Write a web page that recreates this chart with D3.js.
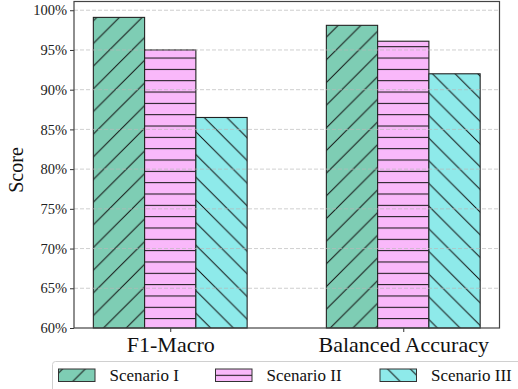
<!DOCTYPE html>
<html>
<head>
<meta charset="utf-8">
<script src="https://cdn.jsdelivr.net/npm/d3@7"></script>
<style>
  html, body { margin: 0; padding: 0; background: #fff; }
  svg { display: block; font-family: "Liberation Serif", "Times New Roman", serif; }
</style>
</head>
<body>
<svg id="chart" width="518" height="389"></svg>
<script>
// Metrics on the x axis
const categories = ["F1-Macro", "Balanced Accuracy"];
// Scenarios drawn as grouped bars
const seriesNames = ["Scenario I", "Scenario II", "Scenario III"];
// Scores (%) per scenario, in category order
const scenario1 = [99.1, 98.1];
const scenario2 = [95.0, 96.1];
const scenario3 = [86.5, 92.0];
const seriesValues = [scenario1, scenario2, scenario3];
// Y axis ticks (%)
const yTicks = [60, 65, 70, 75, 80, 85, 90, 95, 100];

const fills = ["#7ecdb4", "#f9b8fa", "#8eeaea"];
const hatchIds = ["hatch-ne", "hatch-h", "hatch-nw"];

const svg = d3.select("#chart");
const margin = { left: 74, right: 499.5, top: 1.5, bottom: 328 };

const barWidth = 0.22;
const x = d3.scaleLinear().domain([-0.413, 1.413]).range([margin.left, margin.right]);
const y = d3.scaleLinear().domain([60, 101.1]).range([margin.bottom, margin.top]);

// Hatch patterns, anchored to the page origin
const defs = svg.append("defs");
const s = 22.67;  // diagonal hatch spacing
const h = 11.33;  // horizontal hatch spacing

const ne = defs.append("pattern").attr("id", "hatch-ne")
  .attr("patternUnits", "userSpaceOnUse")
  .attr("width", s).attr("height", s).attr("x", 0.8).attr("y", 0);
ne.append("path")
  .attr("d", `M0,${s} L${s},0 M-2,2 L2,-2 M${s - 2},${s + 2} L${s + 2},${s - 2}`)
  .attr("stroke", "#111").attr("stroke-width", 1).attr("fill", "none");

const hz = defs.append("pattern").attr("id", "hatch-h")
  .attr("patternUnits", "userSpaceOnUse")
  .attr("width", 10).attr("height", h).attr("x", 0).attr("y", 0.9);
hz.append("path")
  .attr("d", `M-1,0.5 L11,0.5`)
  .attr("stroke", "#111").attr("stroke-width", 1).attr("fill", "none");

const nw = defs.append("pattern").attr("id", "hatch-nw")
  .attr("patternUnits", "userSpaceOnUse")
  .attr("width", s).attr("height", s).attr("x", -4).attr("y", 0);
nw.append("path")
  .attr("d", `M0,0 L${s},${s} M-2,${s - 2} L2,${s + 2} M${s - 2},-2 L${s + 2},2`)
  .attr("stroke", "#111").attr("stroke-width", 1).attr("fill", "none");

// Bars: solid fill, hatch overlay, dark edge
const groups = svg.append("g").attr("class", "bars");
seriesValues.forEach((vals, j) => {
  const data = vals.map((v, i) => ({ i, v }));
  const g = groups.append("g");
  const bx = d => x(d.i + (j - 1) * barWidth - barWidth / 2);
  const bw = x(barWidth) - x(0);
  g.selectAll("rect.fill").data(data).join("rect").attr("class", "fill")
    .attr("x", bx).attr("width", bw)
    .attr("y", d => y(d.v)).attr("height", d => y(60) - y(d.v))
    .attr("fill", fills[j]);
  g.selectAll("rect.hatch").data(data).join("rect").attr("class", "hatch")
    .attr("x", bx).attr("width", bw)
    .attr("y", d => y(d.v)).attr("height", d => y(60) - y(d.v))
    .attr("fill", `url(#${hatchIds[j]})`)
    .attr("stroke", "#222").attr("stroke-width", 1.1);
});

// Grid lines over the bars
svg.append("g").attr("class", "grid")
  .selectAll("line").data(yTicks.filter(t => t > 60)).join("line")
  .attr("x1", margin.left).attr("x2", margin.right)
  .attr("y1", d => y(d)).attr("y2", d => y(d))
  .attr("stroke", "#b8b8b8").attr("stroke-opacity", 0.75)
  .attr("stroke-width", 0.9).attr("stroke-dasharray", "4,2");

// Y axis
const yAxis = d3.axisLeft(y).tickValues(yTicks).tickSize(4).tickPadding(3)
  .tickFormat(d => d + "%");
const yg = svg.append("g").attr("transform", `translate(${margin.left},0)`).call(yAxis);
yg.select(".domain").remove();
yg.selectAll(".tick line").attr("stroke", "#333");
yg.selectAll(".tick text").attr("font-size", 14.5).attr("fill", "#222")
  .attr("font-family", "Liberation Serif");

// X axis
const xAxis = d3.axisBottom(x).tickValues(categories.map((c, i) => i))
  .tickSize(4).tickPadding(3).tickFormat(i => categories[i]);
const xg = svg.append("g").attr("transform", `translate(0,${margin.bottom})`).call(xAxis);
xg.select(".domain").remove();
xg.selectAll(".tick line").attr("stroke", "#333");
xg.selectAll(".tick text").attr("font-size", 22).attr("fill", "#111")
  .attr("font-family", "Liberation Serif").attr("dy", "0.78em");

// Axes frame
svg.append("rect")
  .attr("x", margin.left).attr("y", margin.top)
  .attr("width", margin.right - margin.left).attr("height", margin.bottom - margin.top)
  .attr("fill", "none").attr("stroke", "#444").attr("stroke-width", 1.2);

// Y axis title
svg.append("text")
  .attr("transform", "translate(23,170) rotate(-90)")
  .attr("text-anchor", "middle")
  .attr("font-size", 20).attr("fill", "#111")
  .text("Score");

// Legend
const legend = svg.append("g").attr("class", "legend");
legend.append("rect")
  .attr("x", 52.5).attr("y", 361.5).attr("width", 500).attr("height", 50)
  .attr("rx", 3).attr("fill", "#fff").attr("stroke", "#d0d0d0").attr("stroke-width", 1);
const legendX = [58.5, 215.5, 380];
seriesNames.forEach((name, j) => {
  legend.append("rect")
    .attr("x", legendX[j]).attr("y", 369).attr("width", 36.5).attr("height", 12.5)
    .attr("fill", fills[j]);
  legend.append("rect")
    .attr("x", legendX[j]).attr("y", 369).attr("width", 36.5).attr("height", 12.5)
    .attr("fill", `url(#${hatchIds[j]})`)
    .attr("stroke", "#333").attr("stroke-width", 1);
  legend.append("text")
    .attr("x", legendX[j] + 51).attr("y", 381)
    .attr("font-size", 17).attr("fill", "#111")
    .text(name);
});
</script>
</body>
</html>
